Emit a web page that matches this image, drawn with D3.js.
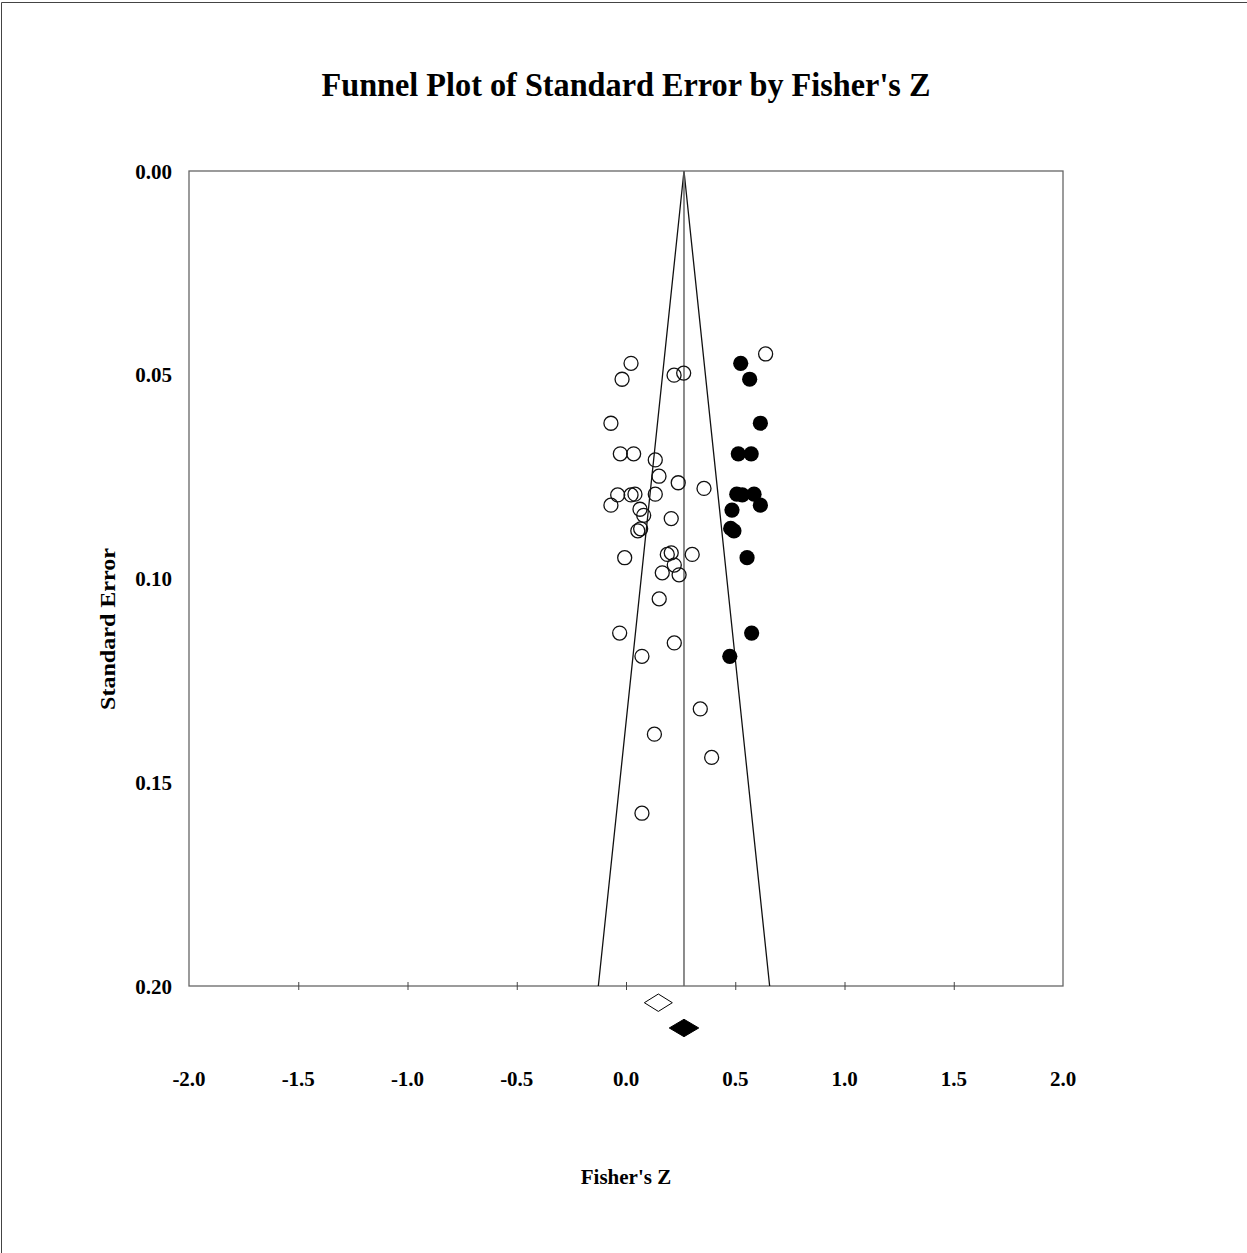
<!DOCTYPE html>
<html><head><meta charset="utf-8">
<script src="https://cdn.jsdelivr.net/npm/d3@7"></script>
<style>
html,body{margin:0;padding:0;background:#fff;overflow:hidden;}
svg{display:block;}
text{font-family:"Liberation Serif","Times New Roman",serif;font-weight:bold;fill:#000;}
</style></head>
<body>
<svg id="chart" width="1247" height="1253"></svg>
<script>
// Observed studies (open circles)
const observedZ  = [0.023,-0.018,0.220,0.264,0.639,-0.069,-0.026,0.035,0.134,0.151,0.239,0.357,-0.038,0.023,0.041,0.134,-0.069,0.064,0.081,0.054,0.067,0.207,-0.006,0.189,0.207,0.303,0.221,0.166,0.243,0.152,-0.029,0.221,0.073,0.340,0.130,0.392,0.073];
const observedSE = [0.0472,0.0511,0.0501,0.0496,0.0449,0.0619,0.0694,0.0694,0.0709,0.0749,0.0765,0.0779,0.0795,0.0795,0.0793,0.0793,0.0820,0.0830,0.0845,0.0883,0.0878,0.0853,0.0949,0.0941,0.0937,0.0941,0.0967,0.0986,0.0991,0.1050,0.1134,0.1158,0.1191,0.1320,0.1382,0.1439,0.1576];
// Imputed studies (filled circles)
const imputedZ  = [0.525,0.566,0.615,0.514,0.573,0.507,0.532,0.586,0.615,0.485,0.479,0.494,0.554,0.575,0.475];
const imputedSE = [0.0472,0.0511,0.0619,0.0694,0.0694,0.0793,0.0795,0.0793,0.0820,0.0832,0.0877,0.0883,0.0949,0.1134,0.1191];
// Summary effects: point, lower, upper, row position (SE units)
const summaryLabels = ["observed","adjusted"];
const summaryPoint = [0.148, 0.2654];
const summaryLower = [0.084, 0.198];
const summaryUpper = [0.212, 0.333];
const summaryRow   = [0.2041, 0.2103];
const funnelCenter = 0.2654;
const xTicks = [-2.0,-1.5,-1.0,-0.5,0.0,0.5,1.0,1.5,2.0];
const yTicks = [0.00,0.05,0.10,0.15,0.20];
const title = "Funnel Plot of Standard Error by Fisher's Z";
const xLabel = "Fisher's Z";
const yLabel = "Standard Error";

(function(){
const svg = d3.select("#chart");
const pL = 189, pR = 1063, pT = 171, pB = 986;
const x = d3.scaleLinear().domain([-2,2]).range([pL,pR]);
const y = d3.scaleLinear().domain([0,0.2]).range([pT,pB]);

// outer border (top and left visible)
svg.append("line").attr("x1",1.5).attr("x2",1247).attr("y1",2.5).attr("y2",2.5).attr("stroke","#444").attr("stroke-width",1);
svg.append("line").attr("x1",1.5).attr("x2",1.5).attr("y1",2.5).attr("y2",1253).attr("stroke","#444").attr("stroke-width",1);

// title
svg.append("text").attr("x",626).attr("y",96).attr("text-anchor","middle")
  .attr("textLength",609).attr("lengthAdjust","spacingAndGlyphs")
  .style("font-size","33px").text(title);

// plot frame
svg.append("rect").attr("x",pL).attr("y",pT).attr("width",pR-pL).attr("height",pB-pT)
  .attr("fill","none").attr("stroke","#666").attr("stroke-width",1.3);

// x ticks crossing bottom axis
const xAxis = d3.axisBottom(x).tickValues(xTicks.slice(1,-1)).tickSize(8).tickFormat("");
const gx = svg.append("g").attr("transform",`translate(0,${pB-4})`).call(xAxis);
gx.select(".domain").remove();
gx.selectAll("line").attr("stroke","#444").attr("stroke-width",1);

// x tick labels
svg.append("g").selectAll("text").data(xTicks).join("text")
  .attr("x",d=>x(d)).attr("y",1086).attr("text-anchor","middle")
  .style("font-size","21px").text(d=>d.toFixed(1));

// y tick labels
svg.append("g").selectAll("text").data(yTicks).join("text")
  .attr("x",172).attr("y",d=>y(d)+7.5).attr("text-anchor","end")
  .style("font-size","21px").text(d=>d.toFixed(2));

// axis labels
svg.append("text").attr("x",626).attr("y",1184).attr("text-anchor","middle")
  .style("font-size","21px").text(xLabel);
svg.append("text").attr("transform","translate(115,629) rotate(-90)").attr("text-anchor","middle")
  .attr("textLength",162).attr("lengthAdjust","spacingAndGlyphs")
  .style("font-size","22px").text(yLabel);

// funnel
const seMax = 0.2;
const funnel = [[funnelCenter-1.96*seMax,seMax],[funnelCenter,0],[funnelCenter+1.96*seMax,seMax]];
svg.append("path").attr("d",d3.line().x(d=>x(d[0])).y(d=>y(d[1]))(funnel))
  .attr("fill","none").attr("stroke","#111").attr("stroke-width",1.3);
svg.append("line").attr("x1",x(funnelCenter)).attr("x2",x(funnelCenter)).attr("y1",y(0)).attr("y2",y(seMax))
  .attr("stroke","#666").attr("stroke-width",1.5);

// points
svg.append("g").selectAll("circle").data(observedZ.map((z,i)=>[z,observedSE[i]])).join("circle")
  .attr("cx",d=>x(d[0])).attr("cy",d=>y(d[1])).attr("r",7)
  .attr("fill","none").attr("stroke","#111").attr("stroke-width",1.3);
svg.append("g").selectAll("circle").data(imputedZ.map((z,i)=>[z,imputedSE[i]])).join("circle")
  .attr("cx",d=>x(d[0])).attr("cy",d=>y(d[1])).attr("r",7.6)
  .attr("fill","#000").attr("stroke","none");

// summary diamonds
const halfH = [8.7, 8.7];
summaryLabels.forEach((lab,i)=>{
  const cy = y(summaryRow[i]);
  const pts = [[x(summaryLower[i]),cy],[x(summaryPoint[i]),cy-halfH[i]],[x(summaryUpper[i]),cy],[x(summaryPoint[i]),cy+halfH[i]]];
  svg.append("path").attr("d","M"+pts.join("L")+"Z")
    .attr("fill", i===0?"#fff":"#000").attr("stroke","#000").attr("stroke-width",1);
});
})();
</script>
</body></html>
